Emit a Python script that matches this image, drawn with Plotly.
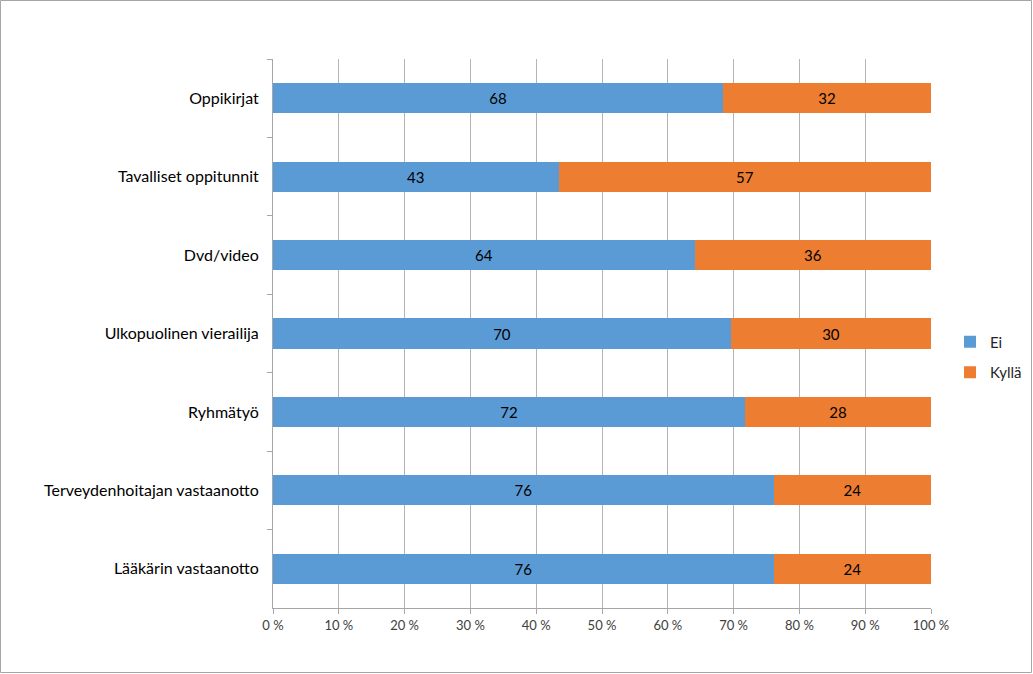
import plotly.graph_objects as go

categories = ["Oppikirjat", "Tavalliset oppitunnit", "Dvd/video", "Ulkopuolinen vierailija",
              "Ryhmätyö", "Terveydenhoitajan vastaanotto", "Lääkärin vastaanotto"]
ei = [68.4, 43.4, 64.1, 69.6, 71.7, 76.1, 76.1]
kylla = [31.6, 56.6, 35.9, 30.4, 28.3, 23.9, 23.9]
x_ticks = [0, 10, 20, 30, 40, 50, 60, 70, 80, 90, 100]
x_tick_labels = ["0 %", "10 %", "20 %", "30 %", "40 %", "50 %", "60 %", "70 %", "80 %", "90 %", "100 %"]

FONT = "Lato, 'Open Sans', sans-serif"
W, H = 1033, 674
ML, MR, MT, MB = 273, 102, 59, 66
PW, PH = W - ML - MR, H - MT - MB

fig = go.Figure()
fig.add_trace(go.Bar(
    y=categories, x=ei, name="Ei", orientation="h",
    marker=dict(color="#5B9BD5", line=dict(width=0)),
    text=ei, texttemplate="%{x:.0f}", textposition="inside",
    insidetextanchor="middle", textangle=0,
    textfont=dict(family=FONT, size=15, color="#000000"),
    legendgroup="a",
))
fig.add_trace(go.Bar(
    y=categories, x=kylla, name="Kyllä", orientation="h",
    marker=dict(color="#ED7D31", line=dict(width=0)),
    text=kylla, texttemplate="%{x:.0f}", textposition="inside",
    insidetextanchor="middle", textangle=0,
    textfont=dict(family=FONT, size=15, color="#000000"),
    legendgroup="b",
))

fig.update_layout(
    width=W, height=H, autosize=False,
    margin=dict(l=ML, r=MR, t=MT, b=MB, autoexpand=False),
    barmode="stack", barnorm="percent", bargap=0.617,
    plot_bgcolor="white", paper_bgcolor="white",
    font=dict(family=FONT, size=14, color="#262626"),
    showlegend=True,
    legend=dict(xref="container", yref="container",
                x=950 / W, y=1 - 357 / H, xanchor="left", yanchor="middle",
                font=dict(family=FONT, size=15, color="#262626"),
                traceorder="grouped", tracegroupgap=8, itemwidth=30,
                bgcolor="rgba(0,0,0,0)"),
    xaxis=dict(range=[0, 100], tickmode="array", tickvals=x_ticks, ticktext=x_tick_labels,
               showgrid=True, gridcolor="#B4B4B4", gridwidth=1,
               showline=True, linecolor="#A6A6A6", linewidth=1,
               ticks="outside", ticklen=5, tickcolor="#A6A6A6",
               tickfont=dict(family=FONT, size=13, color="#404040"),
               zeroline=False, fixedrange=True),
    yaxis=dict(type="category", autorange="reversed", tickson="boundaries",
               showline=True, linecolor="#A6A6A6", linewidth=1,
               ticks="outside", ticklen=5, tickcolor="#A6A6A6",
               tickfont=dict(family=FONT, size=16, color="#000000"),
               ticklabelstandoff=10,
               showgrid=False, fixedrange=True),
    shapes=[dict(type="rect", xref="paper", yref="paper",
                 x0=(0.5 - ML) / PW, x1=(W - 1.5 - ML) / PW,
                 y0=(MT + PH - (H - 1.5)) / PH, y1=(MT + PH - 0.5) / PH,
                 line=dict(color="#A6A6A6", width=1), fillcolor="rgba(0,0,0,0)", layer="below")],
)

fig.write_html(
    "out.html",
    config={"responsive": False, "displayModeBar": False},
    post_script="document.body.style.margin='0';",
)
